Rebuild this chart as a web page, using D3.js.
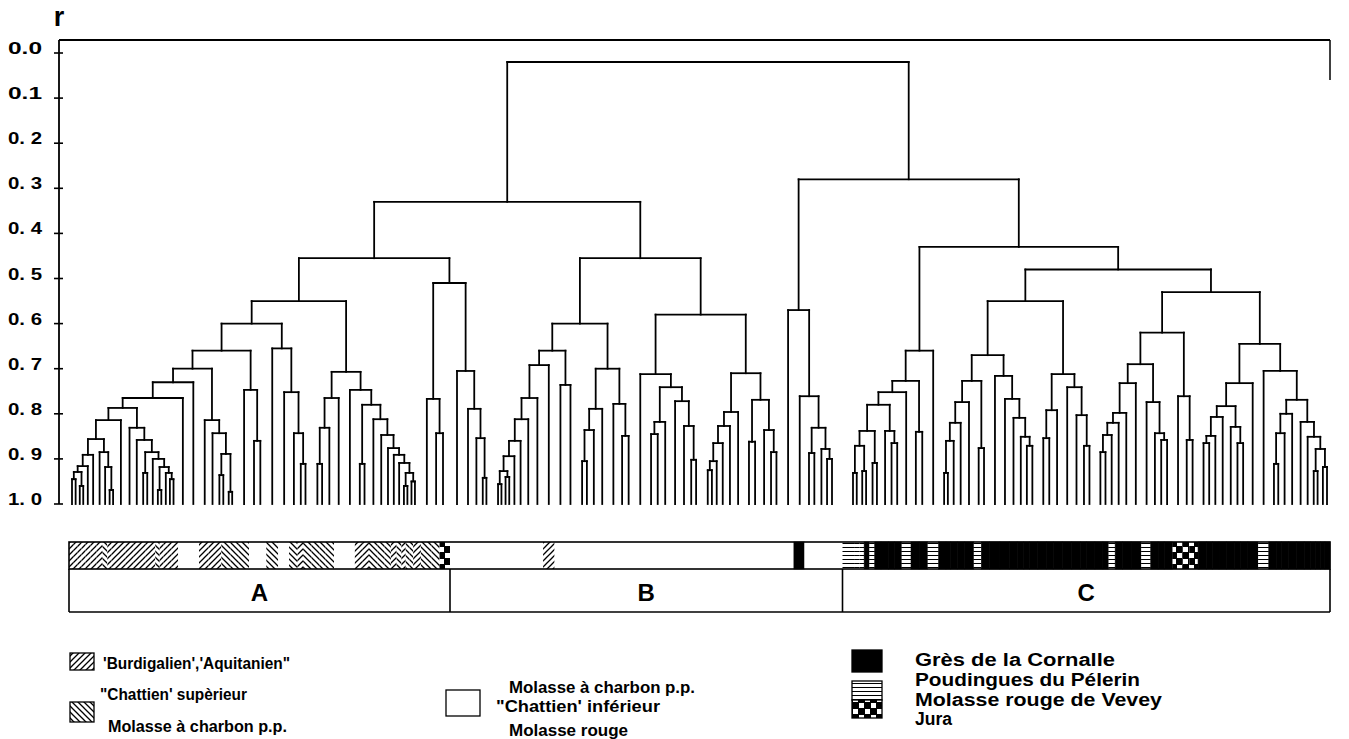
<!DOCTYPE html>
<html><head><meta charset="utf-8">
<script src="https://cdn.jsdelivr.net/npm/d3@7/dist/d3.min.js"></script>
<style>
html,body{margin:0;padding:0;background:#fff;}
svg text{font-family:"Liberation Sans",Arial,Helvetica,sans-serif;fill:#000;}
</style></head><body>
<svg id="chart" width="1349" height="739"></svg>
<script>
// ---------------- DATA ----------------
const rTicks = [0,0.1,0.2,0.3,0.4,0.5,0.6,0.7,0.8,0.9,1.0];
const rTickLabels = ["0.0","0.1","0. 2","0. 3","0. 4","0. 5","0. 6","0. 7","0. 8","0. 9","1. 0"];
const axisTitle = "r";

// sub-clusters (Newick-like: "(a,b)h" with h = merge level r, leaves "x")
const clusters = {
  c1: "((((((((" + "((x,x)0.945,(x,x)0.96)0.929" + ",x)0.916,x)0.891," + "(x,(x,(x,x)0.969)0.918)0.885" +
      ")0.856,x)0.814," + "(x,(x,((x,x)0.931,(x,((x,x)0.969,(x,(x,x)0.945)0.931)0.918)0.90)0.885)0.858)0.831" +
      ")0.787,x)0.765,x)0.73," + "(x,(x,((x,x)0.936,(x,x)0.973)0.889)0.843)0.814" + ")0.70",
  c2: "(x,(x,x)0.86)0.747",
  c3: "x",
  c4: "(x,(x,(x,x)0.911)0.843)0.752",
  c5: "((((x,x)0.911,x)0.831,x)0.765,(x,((x,x)0.911,(x,(x,(x,(x,(x,((x,x)0.96,(x,x)0.95)0.931)0.909)0.891)0.876)0.847)0.812)0.78)0.747)0.707",
  c6: "(x,(x,x)0.843)0.767",
  c7: "(x,(x,(x,(x,x)0.942)0.854)0.789)0.705",
  c8: "(((((((x,x)0.956,(x,x)0.94)0.927,x)0.894,x)0.86,x)0.812,x)0.765,x)0.692",
  c9: "(x,x)0.736",
  c10: "((((x,x)0.905,x)0.836,x)0.789,(x,(x,x)0.849)0.778)0.70",
  c11: "(x,(((x,x)0.845,x)0.818,(x,(x,(x,x)0.902)0.827)0.772)0.741)0.712",
  c12: "((((((x,x)0.925,x)0.905,x)0.865,x)0.827,x)0.796,((x,x)0.862,(x,(x,x)0.885)0.836)0.769)0.71",
  c13: "x",
  c14: "(x,((x,x)0.887,(x,(x,x)0.9)0.878)0.831)0.761",
  c15: "((((((x,x)0.931,(x,x)0.927)0.871,(x,x)0.909)0.838,(x,(x,x)0.865)0.838)0.78,x)0.752,(x,x)0.84)0.727",
  c16: "x",
  c17: "(((((x,x)0.931,x)0.86,x)0.82,x)0.774,(x,x)0.876)0.727",
  c18: "(x,(x,(x,(x,(x,x)0.871)0.851)0.809)0.767)0.716",
  c19: "(((x,x)0.854,x)0.792,(x,(x,(x,x)0.871)0.803)0.741)0.712",
  c20: "((((((x,x)0.885,x)0.847,x)0.82,x)0.798,x)0.732,(x,(x,(x,x)0.858)0.843)0.774)0.69",
  c21: "(x,(x,x)0.858)0.761",
  c22: "(((((x,x)0.865,x)0.849,x)0.807,(x,(x,x)0.865)0.829)0.783,x)0.732",
  c23: "(x,((((x,x)0.911,x)0.843,x)0.80,(x,(x,((x,x)0.927,(x,x)0.918)0.878)0.851)0.818)0.769)0.705"
};
// how the sub-clusters join higher up
const topology = "((" +
  "((((c1,c2)0.66,(c3,c4)0.655)0.60,c5)0.55,(c6,c7)0.51)0.455" + "," +
  "(((c8,c9)0.66,c10)0.60,(c11,c12)0.58)0.455" + ")0.33," +
  "((c13,c14)0.57,((c15,c16)0.66,(((c17,c18)0.67,c19)0.55,((c20,c21)0.62,(c22,c23)0.645)0.53)0.48)0.43)0.28" +
  ")0.02";

// lithology of each leaf (left to right), per sub-cluster
// F = Burdigalien/Aquitanien, S = Chattien sup., W = Molasse a charbon / Chattien inf. / Molasse rouge,
// G = Gres de la Cornalle / Poudingues du Pelerin, V = Molasse rouge de Vevey, J = Jura
const leafLithology = [
  "FFFFFFFSFFFFFFFFSFFFFWWFFFSSS", "SWW", "S", "WSFS", "SSSWWFFSSSFSFSSF", "SSJ",
  "WWWWW", "WWWWWWWWF", "WW", "WWWWWWW", "WWWWWWWW", "WWWWWWWWWWW", "W", "GWWWWW",
  "VVVGVGGGGVGG", "V", "GGGGGVG", "GGGGGG", "GGGGGGG", "GGVGGGVGGG", "JJJ", "GGGGGGGG", "VGGGGGGGGGG"
];
const groupNames = ["A","B","C"];
const groupSizes = [56, 49, 65];

const legendCats = ["F","S","W","G","V","J"];
const legendTexts = {
  F: ["'Burdigalien','Aquitanien\""],
  S: ["\"Chattien' supèrieur", "Molasse à charbon p.p."],
  W: ["Molasse à charbon p.p.", "\"Chattien' inférieur", "Molasse rouge"],
  G: ["Grès de la Cornalle", "Poudingues du Pélerin"],
  V: ["Molasse rouge de Vevey"],
  J: ["Jura"]
};

// ---------------- PARSE ----------------
function parseTree(s){
  let i = 0;
  function node(){
    if (s[i] === "("){
      i++;
      const children = [node()];
      while (s[i] === ","){ i++; children.push(node()); }
      i++;
      let num = "";
      while (i < s.length && /[0-9.]/.test(s[i])) num += s[i++];
      return {h: +num, children};
    }
    let name = "";
    while (i < s.length && /[a-z0-9]/i.test(s[i])) name += s[i++];
    return {h: 1, name};
  }
  return node();
}
const treeString = topology.replace(/c\d+/g, m => clusters[m]);
const root = d3.hierarchy(parseTree(treeString));

// ---------------- LAYOUT ----------------
const svg = d3.select("#chart");
const y = d3.scaleLinear().domain([0,1]).range([53,504]);

const leaves = root.leaves();
function lcaHeight(a, b){
  const anc = new Set(a.ancestors());
  let n = b;
  while (!anc.has(n)) n = n.parent;
  return n.data.h;
}
// leaves that merge at a high level r sit close together
const gapOf = h => Math.max(3.5, Math.min(12, 3.5 + (0.95 - h) * 32));
let u = 0;
leaves.forEach((l,i) => {
  if (i > 0) u += gapOf(lcaHeight(leaves[i-1], l));
  l.u = u;
});
// each group (A, B, C) occupies its own panel of the strip
const groupPanels = [[72,443],[457,832],[853,1327]];
const xDomain = [], xRange = [];
let k0 = 0;
groupSizes.forEach((n,g) => {
  xDomain.push(leaves[k0].u, leaves[k0+n-1].u);
  xRange.push(groupPanels[g][0], groupPanels[g][1]);
  k0 += n;
});
const x = d3.scaleLinear().domain(xDomain).range(xRange);
leaves.forEach(l => l.px = x(l.u));
root.eachAfter(n => {
  if (n.children) n.px = (n.children[0].px + n.children[n.children.length-1].px)/2;
});

// ---------------- FRAME & AXIS ----------------
const ink = "#000";
const axisX = 59, frameTop = 40, frameRight = 1330;
svg.append("line").attr("x1",axisX).attr("x2",frameRight).attr("y1",frameTop).attr("y2",frameTop)
  .attr("stroke",ink).attr("stroke-width",1.8);
svg.append("line").attr("x1",frameRight).attr("x2",frameRight).attr("y1",frameTop).attr("y2",frameTop+40)
  .attr("stroke",ink).attr("stroke-width",1.5);
svg.append("line").attr("x1",axisX).attr("x2",axisX).attr("y1",frameTop).attr("y2",y(1))
  .attr("stroke",ink).attr("stroke-width",1.8);
const tickG = svg.append("g");
rTicks.forEach((t,i) => {
  tickG.append("line").attr("x1",axisX-5).attr("x2",axisX+4).attr("y1",y(t)).attr("y2",y(t))
    .attr("stroke",ink).attr("stroke-width",1.6);
  tickG.append("text").attr("x",8).attr("y",y(t)+1)
    .attr("font-size",16).attr("font-weight","bold").attr("textLength",34).attr("lengthAdjust","spacingAndGlyphs")
    .style("white-space","pre").text(rTickLabels[i]);
});
svg.append("text").attr("x",axisX).attr("y",26).attr("text-anchor","middle")
  .attr("font-size",27).attr("font-weight","bold").text(axisTitle);

// ---------------- DENDROGRAM ----------------
const dg = svg.append("g").attr("stroke",ink).attr("stroke-width",1.8).attr("fill","none").attr("stroke-linecap","square");
root.descendants().filter(n => n.children).forEach(n => {
  const yy = y(n.data.h);
  dg.append("line").attr("x1",n.children[0].px).attr("x2",n.children[n.children.length-1].px)
    .attr("y1",yy).attr("y2",yy);
  n.children.forEach(c => {
    dg.append("line").attr("x1",c.px).attr("x2",c.px).attr("y1",yy).attr("y2",y(c.data.h));
  });
});

// ---------------- PATTERNS ----------------
const defs = svg.append("defs");
function hatch(id, d){
  const p = defs.append("pattern").attr("id",id).attr("patternUnits","userSpaceOnUse").attr("width",6).attr("height",6);
  p.append("rect").attr("width",6).attr("height",6).attr("fill","#fff");
  p.append("path").attr("d",d).attr("stroke",ink).attr("stroke-width",1.3);
}
hatch("pF","M-1,1 l2,-2 M0,6 l6,-6 M5,7 l2,-2");
hatch("pS","M-1,5 l2,2 M0,0 l6,6 M5,-1 l2,2");
const pv = defs.append("pattern").attr("id","pV").attr("patternUnits","userSpaceOnUse").attr("width",4).attr("height",4);
pv.append("rect").attr("width",4).attr("height",4).attr("fill","#fff");
pv.append("rect").attr("y",3).attr("width",4).attr("height",1.2).attr("fill",ink);
const pj = defs.append("pattern").attr("id","pJ").attr("patternUnits","userSpaceOnUse").attr("width",12).attr("height",12);
pj.append("rect").attr("width",12).attr("height",12).attr("fill",ink);
pj.append("rect").attr("x",1).attr("y",1).attr("width",5).attr("height",5).attr("fill","#fff");
pj.append("rect").attr("x",7).attr("y",7).attr("width",5).attr("height",5).attr("fill","#fff");
const fillOf = {F:"url(#pF)", S:"url(#pS)", W:"#fff", G:ink, V:"url(#pV)", J:"url(#pJ)"};

// ---------------- LITHOLOGY STRIP ----------------
const lith = leafLithology.join("").split("");
const stripTop = 542, stripBot = 569, boxBot = 612, stripPad = 3;
const edges = leaves.map((l,i) => i === 0 ? l.px - stripPad : (leaves[i-1].px + l.px)/2);
edges.push(leaves[leaves.length-1].px + stripPad);
const sg = svg.append("g");
leaves.forEach((l,i) => {
  sg.append("rect").attr("x",edges[i]).attr("y",stripTop).attr("width",edges[i+1]-edges[i])
    .attr("height",stripBot-stripTop).attr("fill",fillOf[lith[i]] || "#fff")
    .attr("stroke", lith[i]==="G" ? ink : "none").attr("stroke-width",0.6);
});
svg.append("rect").attr("x",edges[0]).attr("y",stripTop).attr("width",edges[edges.length-1]-edges[0])
  .attr("height",stripBot-stripTop).attr("fill","none").attr("stroke",ink).attr("stroke-width",1.6);

// group boxes
let acc = 0;
const bounds = [edges[0]];
groupSizes.forEach(n => { acc += n; bounds.push(edges[acc]); });
bounds.forEach(b => svg.append("line").attr("x1",b).attr("x2",b).attr("y1",stripBot).attr("y2",boxBot)
  .attr("stroke",ink).attr("stroke-width",1.6));
svg.append("line").attr("x1",bounds[0]).attr("x2",bounds[bounds.length-1]).attr("y1",boxBot).attr("y2",boxBot)
  .attr("stroke",ink).attr("stroke-width",1.6);
groupNames.forEach((g,i) => {
  svg.append("text").attr("x",(bounds[i]+bounds[i+1])/2).attr("y",601).attr("text-anchor","middle")
    .attr("font-size",24).attr("font-weight","bold").text(g);
});

// ---------------- LEGEND ----------------
const legendLayout = {
  F: {sx:70, sy:653, sw:24, sh:17, tx:[103], ty:[669], tw:[187]},
  S: {sx:70, sy:702, sw:24, sh:20, tx:[100,108], ty:[700,732], tw:[147,179]},
  W: {sx:446, sy:690, sw:34, sh:26, tx:[509,496,509], ty:[693,712,736], tw:[186,164,119]},
  G: {sx:852, sy:650, sw:30, sh:22, tx:[915,915], ty:[666,686], tw:[200,225]},
  V: {sx:852, sy:681, sw:30, sh:19, tx:[915], ty:[706], tw:[247]},
  J: {sx:852, sy:700, sw:30, sh:18, tx:[915], ty:[725], tw:[37]}
};
const lg = svg.append("g");
legendCats.forEach(c => {
  const L = legendLayout[c];
  lg.append("rect").attr("x",L.sx).attr("y",L.sy).attr("width",L.sw).attr("height",L.sh)
    .attr("fill",fillOf[c]).attr("stroke",ink).attr("stroke-width",1.3);
  const big = (c==="G"||c==="V"||c==="J");
  legendTexts[c].forEach((t,k) => {
    lg.append("text").attr("x",L.tx[k]).attr("y",L.ty[k])
      .attr("font-size", big ? 18 : 16).attr("font-weight","bold")
      .attr("textLength", L.tw[k]).attr("lengthAdjust","spacingAndGlyphs").text(t);
  });
});
</script>
</body></html>
